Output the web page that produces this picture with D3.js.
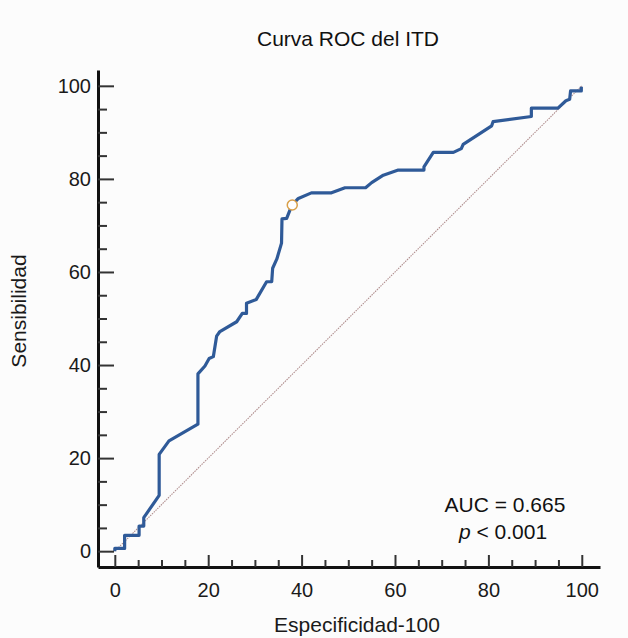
<!DOCTYPE html>
<html>
<head>
<meta charset="utf-8">
<script src="https://cdn.jsdelivr.net/npm/d3@7"></script>
<style>
  body { margin: 0; background: #fcfcfc; }
  svg { display: block; font-family: "Liberation Sans", Arial, sans-serif; }
</style>
</head>
<body>
<div id="chart"></div>
<script>
// ROC curve points (100-specificity, sensitivity)
const fpr = [0, 0, 2.1, 2.1, 5.2, 5.2, 6.2, 6.2, 9.5, 9.5, 11.6, 17.8, 17.8, 19.3, 20.2, 21.1, 21.8, 22.5,
  26.1, 27.3, 28.2, 28.2, 30.3, 32.5, 33.6, 33.8, 34.7, 35.7, 35.8, 36.8, 37.5, 38.0, 39.3, 42.1, 46.4,
  49.3, 53.7, 55.0, 57.5, 60.7, 66.2, 66.2, 68.2, 72.5, 74.2, 74.6, 80.7, 81.0, 89.2, 89.2, 94.9, 96.6,
  97.4, 97.6, 99.9, 99.9];
const tpr = [0, 0.6, 0.6, 3.4, 3.4, 5.4, 5.4, 7.2, 12.0, 20.8, 23.7, 27.3, 38.1, 39.8, 41.4, 41.8, 46.2, 47.2,
  49.3, 51.1, 51.1, 53.3, 54.1, 57.9, 57.9, 60.8, 62.8, 66.2, 71.4, 71.5, 73.3, 74.4, 75.8, 77.0, 77.0,
  78.1, 78.1, 79.2, 80.8, 81.9, 81.9, 82.6, 85.7, 85.7, 86.5, 87.4, 91.4, 92.3, 93.4, 95.2, 95.2, 96.8,
  97.1, 98.9, 98.9, 99.8];
const cutoff = { x: 38.0, y: 74.4 };
const majorTicks = [0, 20, 40, 60, 80, 100];
const minorTicks = d3.range(0, 101, 5).filter(v => v % 20 !== 0);
const title = "Curva ROC del ITD";
const xLabel = "Especificidad-100";
const yLabel = "Sensibilidad";
const aucText = "AUC = 0.665";

const width = 628, height = 638;
const svg = d3.select('#chart').append('svg')
  .attr('width', width).attr('height', height);

svg.append('rect').attr('width', width).attr('height', height).attr('fill', '#fcfcfc');

// axes are offset from the data origin, so domains go a bit below 0
const x = d3.scaleLinear().domain([-3.6, 103.9]).range([98, 600]);
const y = d3.scaleLinear().domain([-3.4, 103.4]).range([567, 70]);

// diagonal reference line
svg.append('line')
  .attr('x1', x(0)).attr('y1', y(0))
  .attr('x2', x(100)).attr('y2', y(100))
  .attr('stroke', '#b08e8e').attr('stroke-width', 1.1)
  .attr('stroke-dasharray', '1.5,1');

// ROC curve
const pts = fpr.map((v, i) => [v, tpr[i]]);
svg.append('path')
  .datum(pts)
  .attr('fill', 'none')
  .attr('stroke', '#2f5a98')
  .attr('stroke-width', 3.2)
  .attr('stroke-linejoin', 'round')
  .attr('d', d3.line().x(d => x(d[0])).y(d => y(d[1])));

// optimal cut-off marker
svg.append('circle')
  .attr('cx', x(cutoff.x)).attr('cy', y(cutoff.y)).attr('r', 5)
  .attr('fill', '#fff').attr('stroke', '#d9a04a').attr('stroke-width', 1.5);

// x axis
const gx = svg.append('g').attr('transform', `translate(0,${y(-3.4)})`);
gx.call(d3.axisBottom(x).tickValues(majorTicks).tickSizeInner(-12).tickSizeOuter(0).tickPadding(16));
gx.append('g').call(d3.axisBottom(x).tickValues(minorTicks).tickSize(-7).tickFormat(''))
  .select('.domain').remove();

// y axis
const gy = svg.append('g').attr('transform', `translate(${x(-3.6)},0)`);
gy.call(d3.axisLeft(y).tickValues(majorTicks).tickSizeInner(-16).tickSizeOuter(0).tickPadding(7));
gy.append('g').call(d3.axisLeft(y).tickValues(minorTicks).tickSize(-9).tickFormat(''))
  .select('.domain').remove();

svg.selectAll('.domain').attr('stroke', '#111').attr('stroke-width', 3);
svg.selectAll('.tick line').attr('stroke', '#333').attr('stroke-width', 2);
svg.selectAll('.tick text').attr('font-size', 20).attr('fill', '#1a1a1a')
  .attr('font-family', '"Liberation Sans", Arial, sans-serif');

// titles
svg.append('text').attr('x', 348).attr('y', 46).attr('text-anchor', 'middle')
  .attr('font-size', 21).attr('fill', '#111').text(title);
svg.append('text').attr('x', 357).attr('y', 632).attr('text-anchor', 'middle')
  .attr('font-size', 21).attr('fill', '#1a1a1a').text(xLabel);
svg.append('text').attr('transform', 'translate(26,311) rotate(-90)').attr('text-anchor', 'middle')
  .attr('font-size', 21).attr('fill', '#1a1a1a').text(yLabel);

// AUC annotation
svg.append('text').attr('x', 505).attr('y', 512).attr('text-anchor', 'middle')
  .attr('font-size', 21).attr('fill', '#111').text(aucText);
const pt = svg.append('text').attr('x', 503).attr('y', 539).attr('text-anchor', 'middle')
  .attr('font-size', 21).attr('fill', '#111');
pt.append('tspan').attr('font-style', 'italic').text('p');
pt.append('tspan').text(' < 0.001');
</script>
</body>
</html>
